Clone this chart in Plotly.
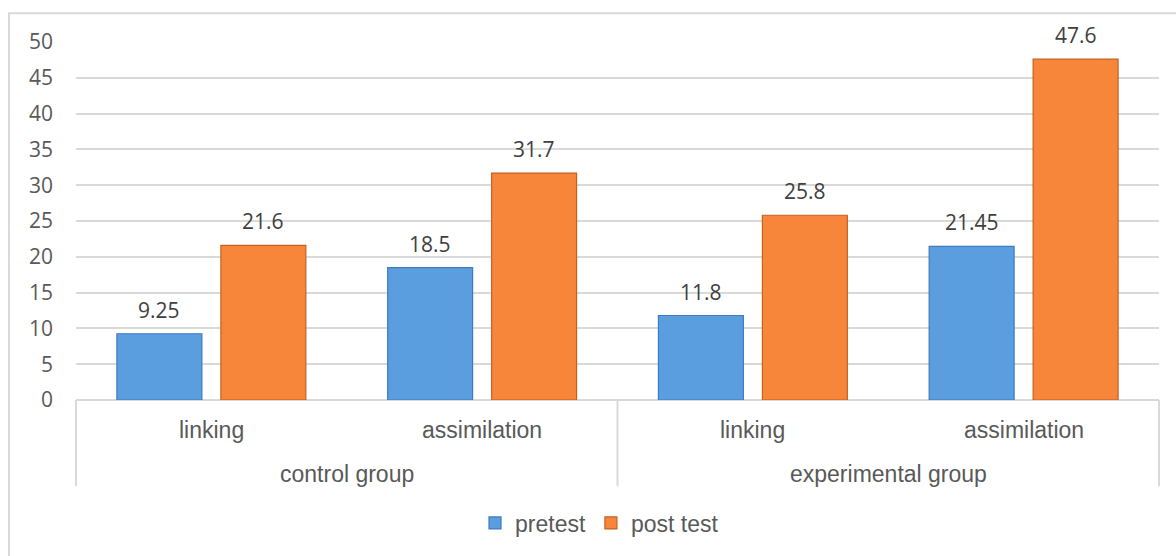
import plotly.graph_objects as go

# Groups and sub-categories on the x axis
groups = ["control group", "control group", "experimental group", "experimental group"]
skills = ["linking", "assimilation", "linking", "assimilation"]
group_names = ["control group", "experimental group"]

# Mean scores
pretest = [9.25, 18.5, 11.8, 21.45]
post_test = [21.6, 31.7, 25.8, 47.6]

y_ticks = [0, 5, 10, 15, 20, 25, 30, 35, 40, 45, 50]

NUM_FONT = "Open Sans, Lato, sans-serif"
TXT_FONT = "Liberation Sans, Arial, sans-serif"
GREY = "#595959"
GRID = "#D9D9D9"

BARGAP = 0.232
BARGROUPGAP = 0.183

fig = go.Figure()
fig.add_trace(go.Bar(
    name="pretest",
    x=[groups, skills],
    y=pretest,
    marker=dict(color="#5A9EE0", line=dict(color="#3D7BBE", width=1.2)),
))
fig.add_trace(go.Bar(
    name="post test",
    x=[groups, skills],
    y=post_test,
    marker=dict(color="#F7853A", line=dict(color="#C4611F", width=1.2)),
))

# Value labels above each bar (pretest left, post test right within a category)
n = len(skills)
slot = (1 - BARGAP) / 2 / n
for series, shift in ((pretest, -0.5), (post_test, 0.5)):
    for i, v in enumerate(series):
        fig.add_annotation(
            x=(i + 0.5) / n + shift * slot, xref="paper", xanchor="center",
            y=v, yref="y", yanchor="middle", yshift=24,
            text=f"{v:g}", showarrow=False,
            font=dict(family=NUM_FONT, size=21, color="#404040"),
        )

# Two-level category labels under the axis
L, R, T, B = 76, 1159, 42, 403
W, H = R - L, B - T
for i, s in enumerate(skills):
    fig.add_annotation(
        x=(i + 0.5) / n, xref="paper", xanchor="center", y=0, yref="paper",
        yanchor="middle", yshift=-30, text=s, showarrow=False,
        font=dict(family=TXT_FONT, size=23, color=GREY),
    )
ng = len(group_names)
for j, g in enumerate(group_names):
    fig.add_annotation(
        x=(j + 0.5) / ng, xref="paper", xanchor="center", y=0, yref="paper",
        yanchor="middle", yshift=-74, text=g, showarrow=False,
        font=dict(family=TXT_FONT, size=23, color=GREY),
    )
# Group dividers
for j in range(ng + 1):
    fig.add_shape(
        type="line", xref="paper", yref="paper",
        x0=j / ng, x1=j / ng, y0=0, y1=-87 / H,
        line=dict(color=GRID, width=2),
    )

# Outer chart border
fig.add_shape(
    type="rect", xref="paper", yref="paper",
    x0=(9 - L) / W, x1=(1185 - L) / W,
    y0=(B - 565) / H, y1=(B - 13) / H,
    line=dict(color=GRID, width=2), layer="below",
)

fig.update_layout(
    width=1176, height=556,
    margin=dict(l=L, r=1176 - R, t=T, b=556 - B),
    paper_bgcolor="white", plot_bgcolor="white",
    barmode="group", bargap=BARGAP, bargroupgap=BARGROUPGAP,
    showlegend=True,
    legend=dict(
        orientation="h", x=(599.5 - L) / W, xanchor="center",
        y=(B - 527) / H, yanchor="middle",
        font=dict(family=TXT_FONT, size=23, color=GREY),
        itemwidth=30, tracegroupgap=0,
    ),
    font=dict(family=TXT_FONT, color=GREY),
)
fig.update_yaxes(
    range=[0, 50], tickvals=y_ticks, showgrid=True, gridcolor=GRID, gridwidth=1.5,
    zeroline=True, zerolinecolor=GRID, zerolinewidth=2,
    tickfont=dict(family=NUM_FONT, size=21, color=GREY),
    ticks="", ticklabelstandoff=22, showline=False,
)
fig.update_xaxes(
    type="multicategory", showticklabels=False, showdividers=False,
    showline=False, ticks="", showgrid=False,
)

fig.write_html("out.html")
